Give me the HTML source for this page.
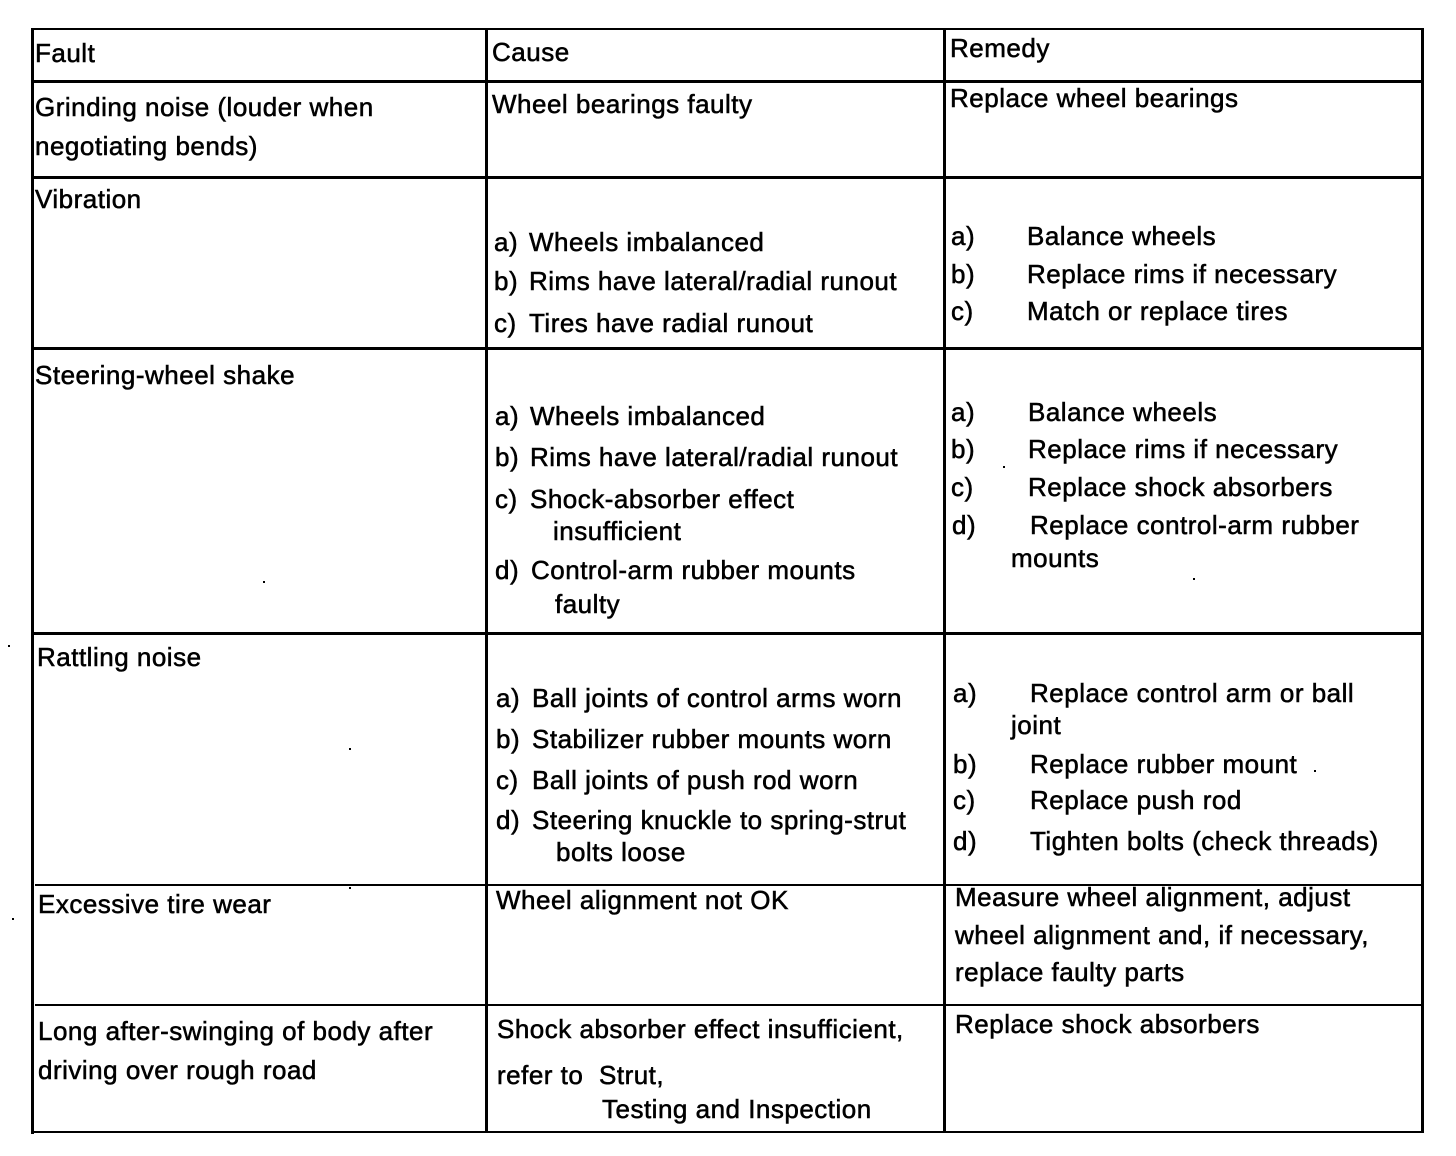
<!DOCTYPE html>
<html>
<head>
<meta charset="utf-8">
<style>
  html, body { margin:0; padding:0; background:#fff; }
  body { width:1456px; height:1156px; overflow:hidden; }
  svg { display:block; }
  text { font-family:"Liberation Sans", Arial, sans-serif; font-size:26px; letter-spacing:0.5px; fill:#000; stroke:#000; stroke-width:0.55px; }
</style>
</head>
<body>
<svg width="1456" height="1156" viewBox="0 0 1456 1156" xmlns="http://www.w3.org/2000/svg">
  <rect x="0" y="0" width="1456" height="1156" fill="#fff"/>
  <!-- grid lines -->
  <g fill="#000">
    <rect x="31" y="28" width="1393" height="2"/>
    <rect x="31" y="28" width="3" height="1106"/>
    <rect x="485" y="28" width="3" height="1105"/>
    <rect x="943" y="28" width="3" height="1105"/>
    <rect x="1421" y="28" width="3" height="1105"/>
    <rect x="31" y="80" width="1393" height="3"/>
    <rect x="31" y="176" width="1393" height="3"/>
    <rect x="31" y="347" width="1393" height="3"/>
    <rect x="31" y="632" width="1393" height="3"/>
    <rect x="35" y="884" width="1389" height="2"/>
    <rect x="35" y="1004" width="1389" height="2"/>
    <rect x="31" y="1131" width="1393" height="2"/>
    <!-- specks -->
    <rect x="8" y="645" width="2" height="2"/>
    <rect x="12" y="918" width="2" height="2"/>
    <rect x="263" y="581" width="2" height="2"/>
    <rect x="349" y="748" width="2" height="2"/>
    <rect x="349" y="887" width="2" height="2"/>
    <rect x="1003" y="466" width="2" height="2"/>
    <rect x="1193" y="578" width="2" height="2"/>
    <rect x="1314" y="770" width="2" height="2"/>
  </g>

  <!-- Header -->
  <text x="35" y="62">Fault</text>
  <text x="492" y="61">Cause</text>
  <text x="950" y="57">Remedy</text>

  <!-- Row 1 -->
  <text x="35" y="116">Grinding noise (louder when</text>
  <text x="35" y="155">negotiating bends)</text>
  <text x="492" y="113">Wheel bearings faulty</text>
  <text x="950" y="107">Replace wheel bearings</text>

  <!-- Row 2 -->
  <text x="35" y="208">Vibration</text>
  <text x="494" y="251">a)</text><text x="529" y="251">Wheels imbalanced</text>
  <text x="494" y="290">b)</text><text x="529" y="290">Rims have lateral/radial runout</text>
  <text x="494" y="332">c)</text><text x="529" y="332">Tires have radial runout</text>
  <text x="951" y="245">a)</text><text x="1027" y="245">Balance wheels</text>
  <text x="951" y="283">b)</text><text x="1027" y="283">Replace rims if necessary</text>
  <text x="951" y="320">c)</text><text x="1027" y="320">Match or replace tires</text>

  <!-- Row 3 -->
  <text x="35" y="384">Steering-wheel shake</text>
  <text x="495" y="425">a)</text><text x="530" y="425">Wheels imbalanced</text>
  <text x="495" y="466">b)</text><text x="530" y="466">Rims have lateral/radial runout</text>
  <text x="495" y="508">c)</text><text x="530" y="508">Shock-absorber effect</text>
  <text x="553" y="540">insufficient</text>
  <text x="495" y="579">d)</text><text x="531" y="579">Control-arm rubber mounts</text>
  <text x="555" y="613">faulty</text>
  <text x="951" y="421">a)</text><text x="1028" y="421">Balance wheels</text>
  <text x="951" y="458">b)</text><text x="1028" y="458">Replace rims if necessary</text>
  <text x="951" y="496">c)</text><text x="1028" y="496">Replace shock absorbers</text>
  <text x="952" y="534">d)</text><text x="1030" y="534">Replace control-arm rubber</text>
  <text x="1011" y="567">mounts</text>

  <!-- Row 4 -->
  <text x="37" y="666">Rattling noise</text>
  <text x="496" y="707">a)</text><text x="532" y="707">Ball joints of control arms worn</text>
  <text x="496" y="748">b)</text><text x="532" y="748">Stabilizer rubber mounts worn</text>
  <text x="496" y="789">c)</text><text x="532" y="789">Ball joints of push rod worn</text>
  <text x="496" y="829">d)</text><text x="532" y="829">Steering knuckle to spring-strut</text>
  <text x="556" y="861">bolts loose</text>
  <text x="953" y="702">a)</text><text x="1030" y="702">Replace control arm or ball</text>
  <text x="1011" y="734">joint</text>
  <text x="953" y="773">b)</text><text x="1030" y="773">Replace rubber mount</text>
  <text x="953" y="809">c)</text><text x="1030" y="809">Replace push rod</text>
  <text x="953" y="850">d)</text><text x="1030" y="850">Tighten bolts (check threads)</text>

  <!-- Row 5 -->
  <text x="38" y="913">Excessive tire wear</text>
  <text x="496" y="909">Wheel alignment not OK</text>
  <text x="955" y="906">Measure wheel alignment, adjust</text>
  <text x="955" y="944">wheel alignment and, if necessary,</text>
  <text x="955" y="981">replace faulty parts</text>

  <!-- Row 6 -->
  <text x="38" y="1040">Long after-swinging of body after</text>
  <text x="38" y="1079">driving over rough road</text>
  <text x="497" y="1038">Shock absorber effect insufficient,</text>
  <text x="497" y="1084">refer to</text>
  <text x="599" y="1084">Strut,</text>
  <text x="602" y="1118">Testing and Inspection</text>
  <text x="955" y="1033">Replace shock absorbers</text>
</svg>
</body>
</html>
